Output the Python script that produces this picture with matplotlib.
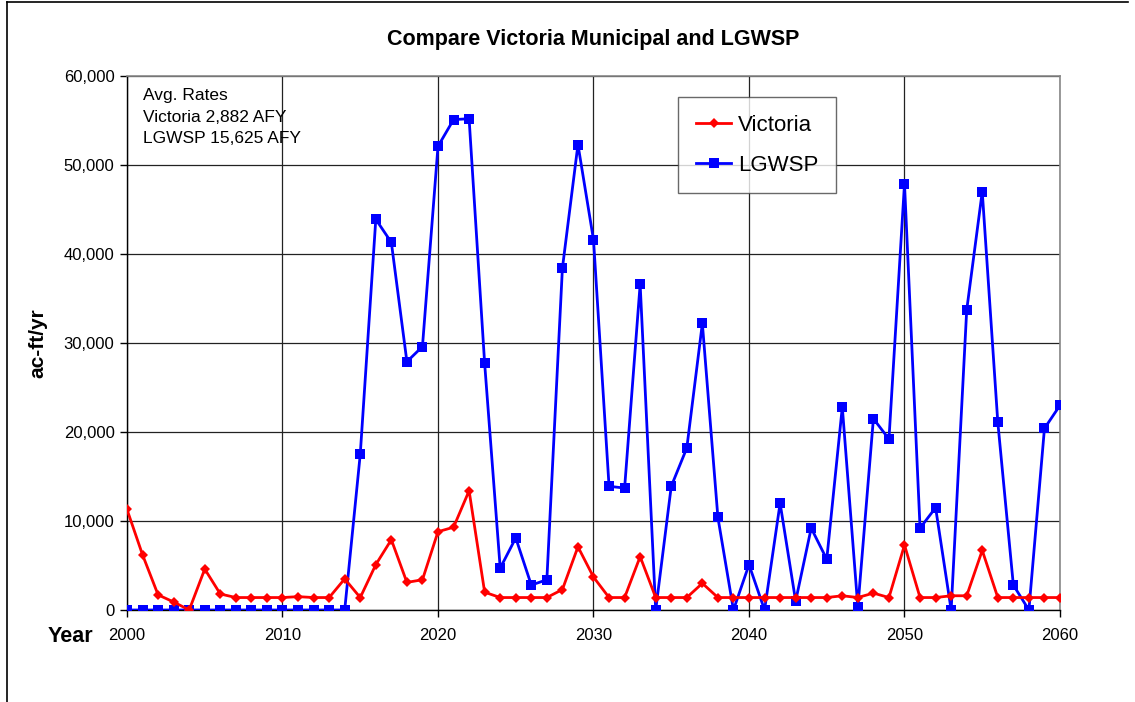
import matplotlib
matplotlib.use("Agg")
import matplotlib.pyplot as plt
from matplotlib.lines import Line2D
from matplotlib.ticker import FuncFormatter, MultipleLocator

years = list(range(2000, 2061))
victoria = [11300, 6200, 1700, 900, 0, 4600, 1800, 1400, 1400, 1400,
            1400, 1500, 1400, 1400, 3500, 1400, 5100, 7900, 3100, 3400,
            8800, 9300, 13400, 2000, 1400, 1400, 1400, 1400, 2300, 7100,
            3700, 1400, 1400, 6000, 1400, 1400, 1400, 3000, 1400, 1400,
            1400, 1400, 1400, 1400, 1400, 1400, 1600, 1400, 1900, 1400,
            7300, 1400, 1400, 1600, 1600, 6700, 1400, 1400, 1400, 1400,
            1400]
lgwsp = [0, 0, 0, 0, 0, 0, 0, 0, 0, 0,
         0, 0, 0, 0, 0, 17500, 43900, 41300, 27900, 29600,
         52100, 55100, 55200, 27700, 4700, 8100, 2800, 3400, 38400, 52300,
         41600, 13900, 13700, 36600, 0, 13900, 18200, 32200, 10400, 0,
         5100, 0, 12000, 1000, 9200, 5700, 22800, 300, 21500, 19200,
         47900, 9200, 11500, 0, 33700, 47000, 21100, 2800, 0, 20400,
         23000]

title = "Compare Victoria Municipal and LGWSP"
ylabel = "ac-ft/yr"
xlabel = "Year"
note = "Avg. Rates\nVictoria 2,882 AFY\nLGWSP 15,625 AFY"

plt.rcParams['font.family'] = ['Liberation Sans', 'DejaVu Sans']

fig = plt.figure(figsize=(11.35, 7.02), dpi=100)
W, H = 1135, 702
ax = fig.add_axes([127 / W, 1 - 610 / H, (1060 - 127) / W, (610 - 76) / H])

ax.plot(years, victoria, color='#FF0000', lw=2.0, marker='D', ms=5.5,
        markeredgewidth=0, label='Victoria', zorder=4)
ax.plot(years, lgwsp, color='#0000FF', lw=2.0, marker='s', ms=6.5,
        markeredgewidth=0, label='LGWSP', zorder=3)

ax.set_xlim(2000, 2060)
ax.set_ylim(0, 60000)
ax.xaxis.set_major_locator(MultipleLocator(10))
ax.yaxis.set_major_locator(MultipleLocator(10000))
ax.yaxis.set_major_formatter(FuncFormatter(lambda v, p: f"{int(v):,}"))
ax.grid(True, color='#222222', lw=0.9, zorder=1)
ax.set_axisbelow(True)

for s in ['top', 'right']:
    ax.spines[s].set_color('#888888')
    ax.spines[s].set_linewidth(1.2)
for s in ['left', 'bottom']:
    ax.spines[s].set_color('#000000')
    ax.spines[s].set_linewidth(1.0)

ax.tick_params(axis='both', labelsize=12, direction='out', length=5,
               width=1, color='#000000')
ax.tick_params(axis='x', pad=8)
ax.tick_params(axis='y', pad=4)

ax.set_title(title, fontsize=15.5, fontweight='bold', pad=22)
ax.set_ylabel(ylabel, fontsize=15, fontweight='bold', labelpad=12)
fig.text(70 / W, 1 - 637 / H, xlabel, fontsize=15.5, fontweight='bold',
         ha='center', va='center')

ax.text((143 - 127) / (1060 - 127), 1 - (88 - 76) / 534, note, transform=ax.transAxes,
        fontsize=12.5, va='top', ha='left', linespacing=1.55)

leg = ax.legend(loc='upper left',
                bbox_to_anchor=((678 - 127) / (1060 - 127), 1 - (97 - 76) / 534),
                fontsize=16, frameon=True, fancybox=False, edgecolor='#444444',
                borderpad=0.8, labelspacing=0.85, handlelength=1.6,
                handletextpad=0.3, borderaxespad=0)
leg.get_frame().set_linewidth(1.0)

# chart area border (left and top)
fig.add_artist(Line2D([7 / W, 7 / W], [0, 1 - 2 / H], color='black', lw=1.2,
                      transform=fig.transFigure))
fig.add_artist(Line2D([7 / W, 1128 / W], [1 - 2 / H, 1 - 2 / H], color='black', lw=1.2,
                      transform=fig.transFigure))

fig.savefig("out.png", dpi=100)
